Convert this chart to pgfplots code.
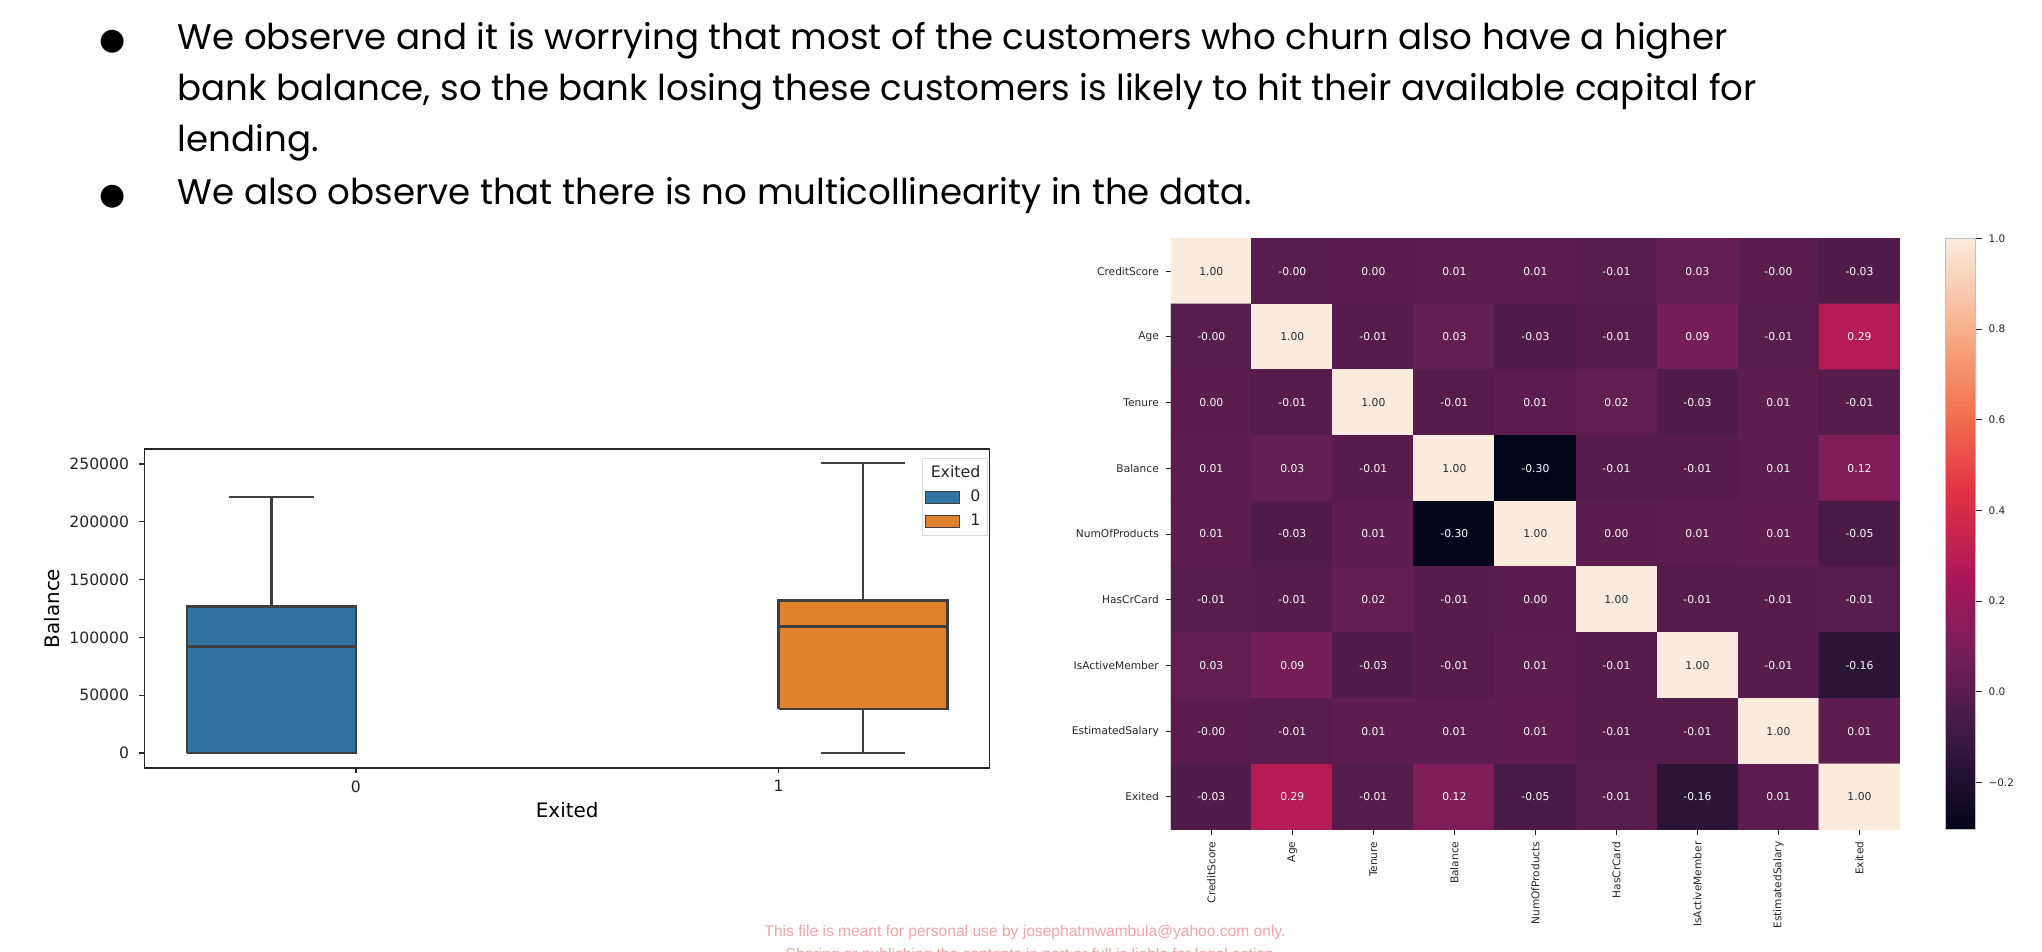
\documentclass[border=0pt]{standalone}
\usepackage{pgfplots}
\pgfplotsset{compat=1.18}
\usepackage{pgfplotstable}
\usepackage{fontspec}
\setmainfont{DejaVu Sans}
\newfontfamily\bodyfont{Poppins}
\newfontfamily\wmfont{Liberation Sans}
\definecolor{c0}{HTML}{3274A1}
\definecolor{c1}{HTML}{E1812C}
\definecolor{boxline}{HTML}{3F3F3F}
\definecolor{ink}{HTML}{262626}
\definecolor{wm}{HTML}{F4A3A3}

\pgfplotstableread{
x y val lab
0 0 1.00 1.00
1 0 -0.004 -0.00
2 0 0.001 0.00
3 0 0.006 0.01
4 0 0.012 0.01
5 0 -0.005 -0.01
6 0 0.026 0.03
7 0 -0.001 -0.00
8 0 -0.027 -0.03
0 1 -0.004 -0.00
1 1 1.00 1.00
2 1 -0.010 -0.01
3 1 0.028 0.03
4 1 -0.031 -0.03
5 1 -0.012 -0.01
6 1 0.085 0.09
7 1 -0.007 -0.01
8 1 0.285 0.29
0 2 0.001 0.00
1 2 -0.010 -0.01
2 2 1.00 1.00
3 2 -0.012 -0.01
4 2 0.013 0.01
5 2 0.023 0.02
6 2 -0.028 -0.03
7 2 0.008 0.01
8 2 -0.014 -0.01
0 3 0.006 0.01
1 3 0.028 0.03
2 3 -0.012 -0.01
3 3 1.00 1.00
4 3 -0.304 -0.30
5 3 -0.015 -0.01
6 3 -0.010 -0.01
7 3 0.013 0.01
8 3 0.119 0.12
0 4 0.012 0.01
1 4 -0.031 -0.03
2 4 0.013 0.01
3 4 -0.304 -0.30
4 4 1.00 1.00
5 4 0.003 0.00
6 4 0.010 0.01
7 4 0.014 0.01
8 4 -0.048 -0.05
0 5 -0.005 -0.01
1 5 -0.012 -0.01
2 5 0.023 0.02
3 5 -0.015 -0.01
4 5 0.003 0.00
5 5 1.00 1.00
6 5 -0.012 -0.01
7 5 -0.010 -0.01
8 5 -0.007 -0.01
0 6 0.026 0.03
1 6 0.085 0.09
2 6 -0.028 -0.03
3 6 -0.010 -0.01
4 6 0.010 0.01
5 6 -0.012 -0.01
6 6 1.00 1.00
7 6 -0.011 -0.01
8 6 -0.156 -0.16
0 7 -0.001 -0.00
1 7 -0.007 -0.01
2 7 0.008 0.01
3 7 0.013 0.01
4 7 0.014 0.01
5 7 -0.010 -0.01
6 7 -0.011 -0.01
7 7 1.00 1.00
8 7 0.012 0.01
0 8 -0.027 -0.03
1 8 0.285 0.29
2 8 -0.014 -0.01
3 8 0.119 0.12
4 8 -0.048 -0.05
5 8 -0.007 -0.01
6 8 -0.156 -0.16
7 8 0.012 0.01
8 8 1.00 1.00
}\corr

\pgfplotstableread{
x y lab
0 0 1.00
1 1 1.00
2 2 1.00
3 3 1.00
4 4 1.00
5 5 1.00
6 6 1.00
7 7 1.00
8 8 1.00
}\diag

\begin{document}
\begin{tikzpicture}
\useasboundingbox (0,0) rectangle (1021bp,476bp);

% bullet text
\begin{scope}[every node/.style={inner sep=0pt, anchor=base west, text=black}]
\node[anchor=base] at (56.4bp,451bp) {\fontsize{15bp}{18bp}\selectfont ●};
\node[anchor=base] at (56.4bp,373.7bp) {\fontsize{15bp}{18bp}\selectfont ●};
\node at (88.7bp,451bp) {\bodyfont\fontsize{17.8bp}{21bp}\selectfont We observe and it is worrying that most of the customers who churn also have a higher};
\node at (88.7bp,425.5bp) {\bodyfont\fontsize{17.8bp}{21bp}\selectfont bank balance, so the bank losing these customers is likely to hit their available capital for};
\node at (88.7bp,400bp) {\bodyfont\fontsize{17.8bp}{21bp}\selectfont lending.};
\node at (88.7bp,373.7bp) {\bodyfont\fontsize{17.8bp}{21bp}\selectfont We also observe that there is no multicollinearity in the data.};
\end{scope}

% watermark
\node[text=wm, inner sep=0pt] at (512.5bp,10bp) {\wmfont\fontsize{7.8bp}{9bp}\selectfont This file is meant for personal use by josephatmwambula@yahoo.com only.};
\node[text=wm, inner sep=0pt] at (516bp,-1.5bp) {\wmfont\fontsize{7.8bp}{9bp}\selectfont Sharing or publishing the contents in part or full is liable for legal action.};

% boxplot (balance in thousands)
\begin{axis}[
  at={(72.3bp,92bp)}, anchor=south west, scale only axis,
  width=422.6bp, height=159.5bp,
  xmin=-0.5, xmax=1.5, ymin=-13, ymax=263,
  xtick={0,1}, ytick={0,50,100,150,200,250},
  yticklabels={0,50000,100000,150000,200000,250000},
  /pgf/number format/assume math mode=true,
  tick align=outside, xtick pos=left, ytick pos=left,
  major tick length=2.7bp,
  tick style={ink, line width=0.6bp},
  axis line style={black!85, line width=0.65bp},
  ticklabel style={font=\fontsize{7.8bp}{9bp}\selectfont, text=ink},
  yticklabel style={xshift=-1.6bp},
  xlabel={Exited}, ylabel={Balance},
  label style={font=\fontsize{7.8bp}{9bp}\selectfont, text=ink},
  every axis x label/.style={at={(axis description cs:0.5,-0.1317)}, anchor=center},
  every axis y label/.style={at={(axis description cs:-0.1096,0.5)}, rotate=90, anchor=center},
  legend style={at={(1,1)}, xshift=-1.2bp, yshift=-4.7bp, anchor=north east,
    draw=black!15, fill=white,
    font=\fontsize{7.9bp}{9bp}\selectfont, text=ink,
    inner xsep=1.3bp, inner ysep=1.2bp, row sep=0.9bp},
  legend cell align=right,
  every axis plot/.append style={line width=1.2bp, draw=boxline},
]
\addlegendimage{empty legend}
\addlegendentry{\makebox[5bp][r]{Exited}\hspace{5bp}}
\addlegendimage{legend image code/.code={\draw[fill=c0,draw=boxline,line width=0.5bp] (0bp,-3.15bp) rectangle (17.2bp,3.15bp);}}
\addlegendentry{\hspace{3bp}0\hspace{5bp}}
\addlegendimage{legend image code/.code={\draw[fill=c1,draw=boxline,line width=0.5bp] (0bp,-3.15bp) rectangle (17.2bp,3.15bp);}}
\addlegendentry{\hspace{3bp}1\hspace{5bp}}

% Exited = 0 : whiskers 0 / 221.5, box 0 - 126.7, median 92.0
\addplot[forget plot] coordinates {(-0.2,126.7) (-0.2,221.5)};
\addplot[forget plot] coordinates {(-0.3,221.5) (-0.1,221.5)};
\addplot[forget plot] coordinates {(-0.3,0) (-0.1,0)};
\addplot[forget plot, fill=c0] coordinates {(-0.4,0) (0,0) (0,126.7) (-0.4,126.7) (-0.4,0)};
\addplot[forget plot] coordinates {(-0.4,92.0) (0,92.0)};

% Exited = 1 : whiskers 0 / 250.9, box 38.3 - 131.8, median 109.3
\addplot[forget plot] coordinates {(1.2,131.8) (1.2,250.9)};
\addplot[forget plot] coordinates {(1.2,0) (1.2,38.3)};
\addplot[forget plot] coordinates {(1.1,250.9) (1.3,250.9)};
\addplot[forget plot] coordinates {(1.1,0) (1.3,0)};
\addplot[forget plot, fill=c1] coordinates {(1.0,38.3) (1.4,38.3) (1.4,131.8) (1.0,131.8) (1.0,38.3)};
\addplot[forget plot] coordinates {(1.0,109.3) (1.4,109.3)};
\end{axis}

% heatmap
\begin{axis}[
  at={(585.4bp,61.2bp)}, anchor=south west, scale only axis,
  width=364.6bp, height=295.6bp,
  xmin=-0.5, xmax=8.5, ymin=-0.5, ymax=8.5, y dir=reverse,
  enlargelimits=false,
  xtick={0,...,8}, ytick={0,...,8},
  xticklabels={CreditScore,Age,Tenure,Balance,NumOfProducts,HasCrCard,IsActiveMember,EstimatedSalary,Exited},
  yticklabels={CreditScore,Age,Tenure,Balance,NumOfProducts,HasCrCard,IsActiveMember,EstimatedSalary,Exited},
  xtick pos=left, ytick pos=left, tick align=outside,
  major tick length=2.5bp, tick style={ink, line width=0.5bp},
  axis line style={draw=none},
  ticklabel style={font=\fontsize{5.3bp}{6bp}\selectfont, text=ink},
  xticklabel style={rotate=90, anchor=east},
  colormap={rocket}{rgb255=(3,5,26) rgb255=(53,25,62) rgb255=(112,31,87) rgb255=(173,23,89) rgb255=(225,51,66) rgb255=(243,118,81) rgb255=(246,180,143) rgb255=(250,235,221)},
  point meta min=-0.304, point meta max=1,
  colorbar,
  colorbar/width=15bp,
  colorbar style={
    at={(parent axis.north east)}, anchor=north west, xshift=14bp,
    scale only axis, width=15bp, height=295.6bp,
    ytick={-0.2,0,0.2,0.4,0.6,0.8,1.0},
    yticklabels={−0.2,0.0,0.2,0.4,0.6,0.8,1.0},
    yticklabel style={font=\fontsize{5.2bp}{6bp}\selectfont, text=ink},
    major tick length=3.3bp, tick style={ink, line width=0.5bp},
    axis line style={black!25, line width=0.4bp},
    tick align=outside, ytick pos=right,
  },
]
\addplot[matrix plot*, mesh/cols=9, point meta=\thisrow{val}] table[x=x,y=y] {\corr};
\addplot[only marks, mark=*, mark size=0pt, mark options={draw=none,fill=none},
  point meta=explicit symbolic,
  nodes near coords, nodes near coords align={center},
  every node near coord/.append style={font=\fontsize{5.4bp}{6bp}\selectfont, inner sep=0pt, text=white},
] table[x=x,y=y,meta=lab] {\corr};
\addplot[only marks, mark=*, mark size=0pt, mark options={draw=none,fill=none},
  point meta=explicit symbolic,
  nodes near coords, nodes near coords align={center},
  every node near coord/.append style={font=\fontsize{5.4bp}{6bp}\selectfont, inner sep=0pt, text=ink},
] table[x=x,y=y,meta=lab] {\diag};
\end{axis}
\end{tikzpicture}
\end{document}
